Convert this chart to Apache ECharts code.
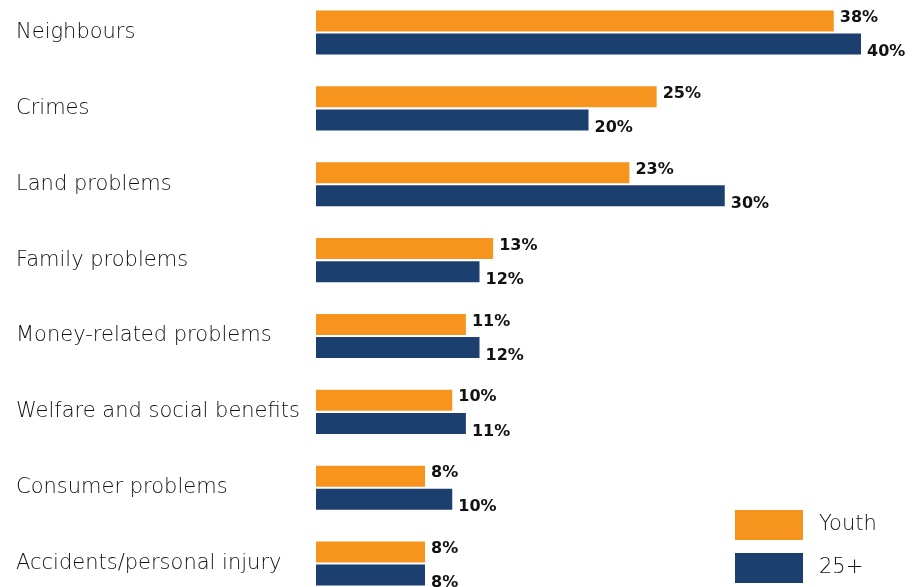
<!DOCTYPE html>
<html><head><meta charset="utf-8">
<script src="https://cdn.jsdelivr.net/npm/echarts@6/dist/echarts.min.js"></script>
<style>html,body{margin:0;padding:0;background:#fff}#c{width:915px;height:587px}</style>
</head><body><div id="c"></div>
<script>
const categories = ["Neighbours","Crimes","Land problems","Family problems","Money-related problems","Welfare and social benefits","Consumer problems","Accidents/personal injury"];
const youth = [38,25,23,13,11,10,8,8];
const older = [40,20,30,12,12,11,10,8];
const seriesNames = ["Youth","25+"];
const chart = echarts.init(document.getElementById('c'));
const font = '"DejaVu Sans", sans-serif';
chart.setOption({
  animation:false,
  grid:{left:316,right:54,top:-5.4,height:606.9,containLabel:false,outerBoundsMode:'none'},
  legend:{orient:'vertical',left:735,top:510,padding:0,itemWidth:68,itemHeight:30,itemGap:13,
    textStyle:{fontSize:21,fontWeight:200,color:'#111',fontFamily:font,padding:[0,0,0,11]},
    icon:'rect',data:seriesNames},
  xAxis:{type:'value',min:0,max:40,show:false},
  yAxis:{type:'category',data:categories,inverse:true,
    axisLine:{show:false},axisTick:{show:false},
    axisLabel:{align:'left',margin:300,fontSize:21,fontWeight:200,color:'#111',fontFamily:font}},
  series:[
    {name:seriesNames[0],type:'bar',data:youth,barWidth:21,barGap:'10%',barCategoryGap:'42%',
     itemStyle:{color:'#F7941D'},
     label:{show:true,position:'right',distance:6,offset:[0,-3],formatter:'{c}%',fontSize:16,fontWeight:'bold',color:'#111',fontFamily:font}},
    {name:seriesNames[1],type:'bar',data:older,barWidth:21,
     itemStyle:{color:'#1B3F6E'},
     label:{show:true,position:'right',distance:6,offset:[0,8],formatter:'{c}%',fontSize:16,fontWeight:'bold',color:'#111',fontFamily:font}}
  ]
});
</script></body></html>
